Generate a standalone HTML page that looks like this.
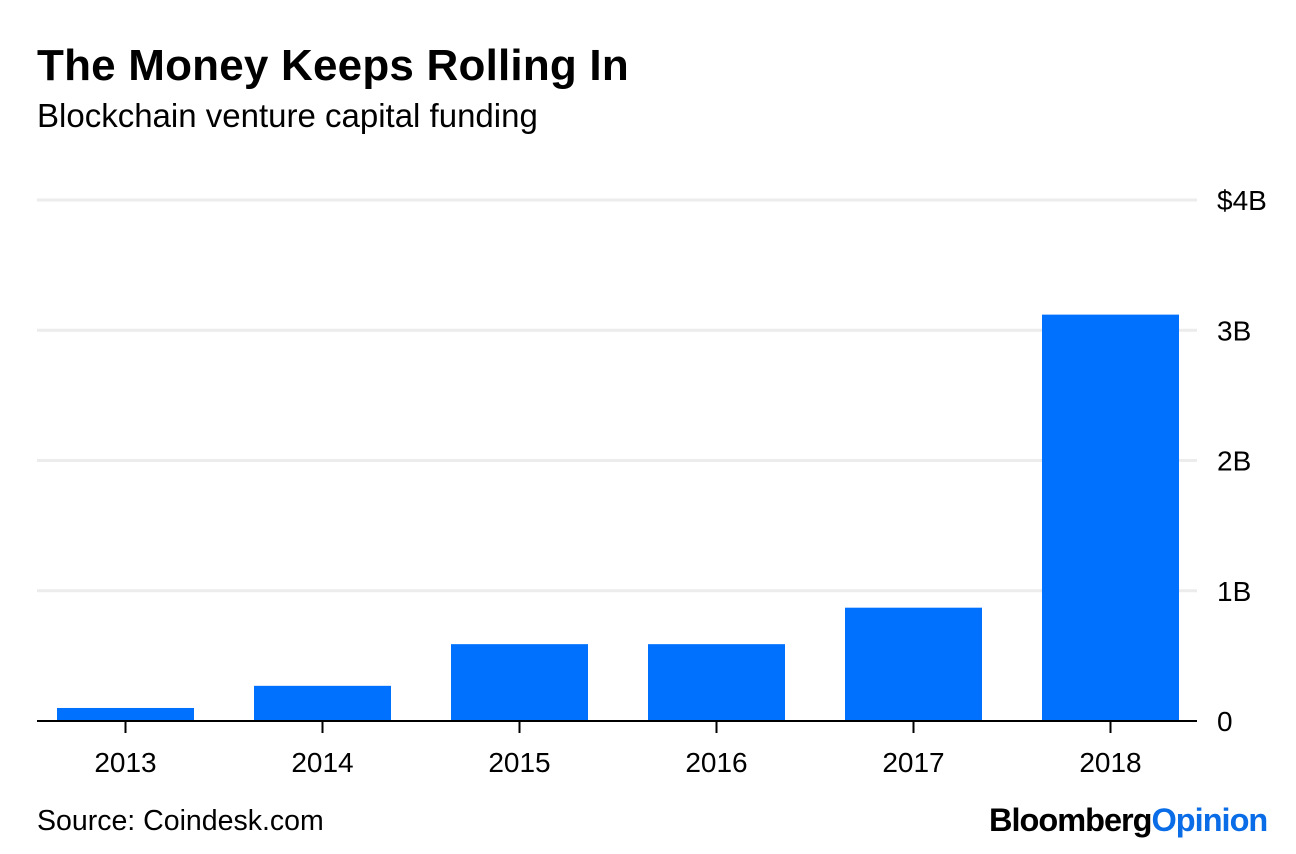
<!DOCTYPE html>
<html><head><meta charset="utf-8"><style>
body{margin:0;background:#fff;width:1296px;height:854px;overflow:hidden;font-family:"Liberation Sans",sans-serif}
#title{position:absolute;left:37px;top:41px;font-size:44px;font-weight:bold;color:#000;letter-spacing:0.2px}
#sub{position:absolute;left:37px;top:97px;font-size:33px;color:#000}
#src{position:absolute;left:37px;top:805px;font-size:28.5px;color:#000}
#logo{position:absolute;left:989px;top:802px;font-size:32.5px;font-weight:bold;letter-spacing:-1px}
svg{position:absolute;left:0;top:0}
</style></head><body>
<div id="title">The Money Keeps Rolling In</div>
<div id="sub">Blockchain venture capital funding</div>
<svg id="chart" width="1296" height="854"></svg>
<div id="src">Source: Coindesk.com</div>
<div id="logo"><span style="color:#000">Bloomberg</span><span style="color:#0a6ce6">Opinion</span></div>
<script>
const categories=["2013","2014","2015","2016","2017","2018"];
const values=[0.1,0.27,0.59,0.59,0.87,3.12];
const yTicks=[0,1,2,3,4];
const yTickLabels=["0","1B","2B","3B","$4B"];
const ns="http://www.w3.org/2000/svg";
const svg=document.getElementById('chart');
const x0=37,x1=1197,yBase=721,yTop=200,yMax=4;
const y=v=>yBase-(v/yMax)*(yBase-yTop);
const step=197;
const bw=137;
const xc=i=>125.5+step*i;
function mk(t,a){const e=document.createElementNS(ns,t);for(const k in a)e.setAttribute(k,a[k]);svg.appendChild(e);return e;}
yTicks.forEach((t,i)=>{
  if(t>0){const l=mk('line',{x1:x0,x2:x1,y1:y(t),y2:y(t),stroke:'#ececec','stroke-width':3});
  
  }
  const tx=mk('text',{x:1217,y:y(t)+10,'font-size':28,'font-family':'Liberation Sans, sans-serif',fill:'#000'});
  tx.textContent=yTickLabels[i];
  
  
});
categories.forEach((c,i)=>{
  const r=mk('rect',{x:xc(i)-bw/2,y:y(values[i]),width:bw,height:yBase-y(values[i]),fill:'#0070ff'});
  
  
  const tk=mk('line',{x1:xc(i),x2:xc(i),y1:yBase,y2:yBase+12,stroke:'#000','stroke-width':2});
  
  
  const tx=mk('text',{x:xc(i),y:772,'text-anchor':'middle','font-size':28,'font-family':'Liberation Sans, sans-serif',fill:'#000'});
  tx.textContent=c;
  
  
});
const ax=mk('line',{x1:x0,x2:x1,y1:yBase,y2:yBase,stroke:'#000','stroke-width':2});


</script>
</body></html>
